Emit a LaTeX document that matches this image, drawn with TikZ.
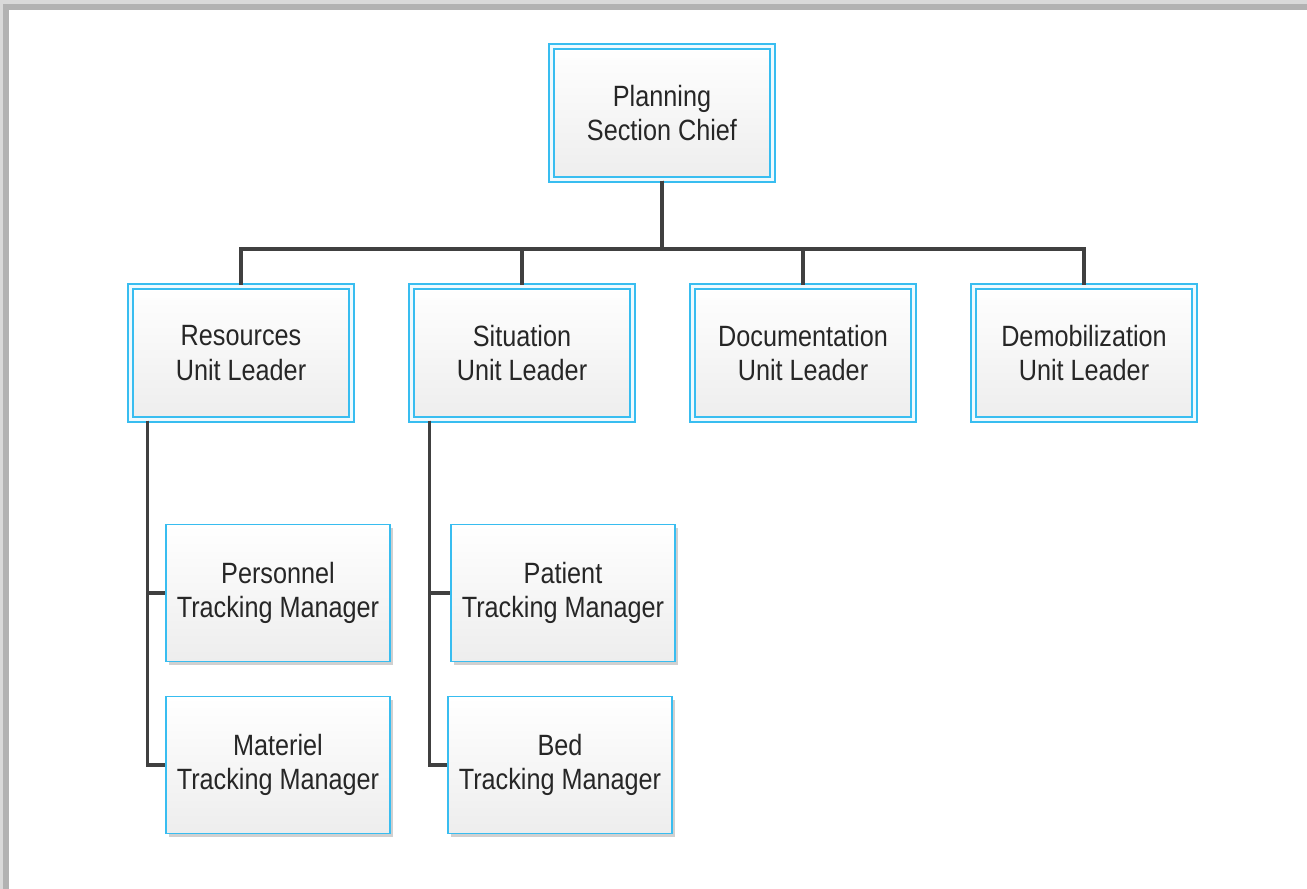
\documentclass[tikz,border=0pt]{standalone}
\usepackage{fontspec}
\setmainfont{Liberation Sans}[FakeStretch=0.86]
\usetikzlibrary{shadows}
\definecolor{rim}{HTML}{38BDF0}
\definecolor{wire}{HTML}{404040}
\tikzset{every picture/.style={line width=1pt}}
\tikzset{
  box/.style={draw=rim, top color=white, bottom color=black!7,
              text=black!85, align=center, inner sep=0pt,
              font=\fontsize{22}{26}\selectfont,
              drop shadow={shadow xshift=2.5pt, shadow yshift=-2.5pt,
                           opacity=.3, fill=black!60}},
  unit/.style={box, double=rim!8, double distance=2.2pt,
               line width=1.3pt, minimum width=166pt, minimum height=100pt},
  mgr/.style={box, line width=1.2pt, minimum width=168pt, minimum height=103pt},
  link/.style={draw=wire, line width=2.4pt},
}

\begin{document}
\begin{tikzpicture}[x=0.75pt, y=-0.75pt]
  \useasboundingbox (0,0) rectangle (1307,889);
  % page frame
  \fill[black!30] (0,0) rectangle (1307,889);
  \fill[black!15] (0,0) rectangle (1307,4);
  \fill[black!15] (0,0) rectangle (3,889);
  \fill[white] (9,10) rectangle (1307,889);

  % top of the chart
  \node[unit] (chief) at (662,113) {Planning\\Section Chief};
  \coordinate (bus) at (662,249);

  % unit leaders | one row
  \foreach \nm/\x/\txt in {res/241/Resources, sit/522/Situation,
                           doc/803/Documentation, demob/1084/Demobilization} {
      \node[unit] (\nm) at (\x,353) {\txt\\Unit Leader};
      \draw[link] (chief.south) -- (bus) -| (\nm.north);
  };

  % tracking managers
  \node[mgr] (pers) at (278,593) {Personnel\\Tracking Manager};
  \node[mgr] (mat)  at (278,765) {Materiel\\Tracking Manager};
  \node[mgr] (pat)  at (563,593) {Patient\\Tracking Manager};
  \node[mgr] (bed)  at (560,765) {Bed\\Tracking Manager};

  % connect managers to their unit
  \draw[link] ([xshift=13.5pt]res.south west) |- (mat.west);
  \draw[link] ([xshift=13.5pt]res.south west) |- (pers.west);
  \draw[link] ([xshift=14.25pt]sit.south west) |- (bed.west);
  \draw[link] ([xshift=14.25pt]sit.south west) |- (pat.west);
\end{tikzpicture}
\end{document}
